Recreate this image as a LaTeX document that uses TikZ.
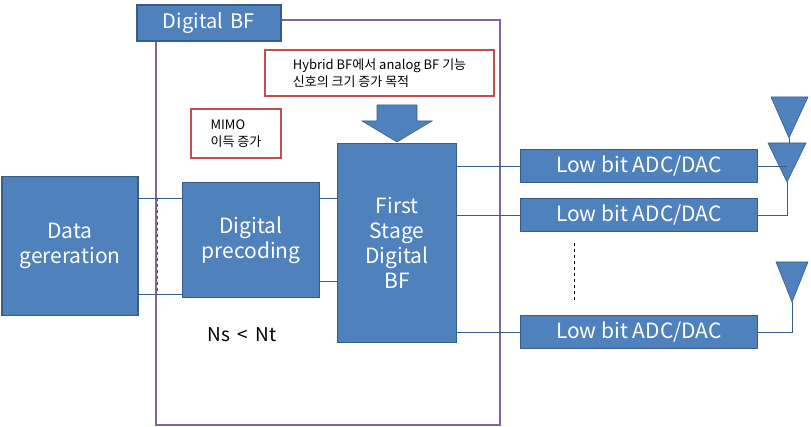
\documentclass[tikz,border=0pt]{standalone}
\usepackage{fontspec}
\setmainfont{Noto Sans CJK KR}
\usetikzlibrary{positioning}
\definecolor{boxblue}{HTML}{4F81BD}
\definecolor{boxedge}{HTML}{385D8A}
\definecolor{notered}{HTML}{C0504D}
\definecolor{framepurple}{HTML}{8064A2}

\begin{document}
\begin{tikzpicture}[
            x = 1pt, y = -1pt, % one unit per pixel
            semithick
            ]

        \tikzset{
            block/.style = {draw = boxedge, line width = 1.2pt, fill = boxblue, text = white,
                inner sep = 0pt, align = center, font = \fontsize{21}{25}\selectfont},
            note/.style = {draw = notered, line width = 2pt, fill = white, inner sep = 5pt,
                align = left, font = \fontsize{13}{17}\selectfont},
            wire/.style = {draw = boxedge, thin},
            antenna/.style = {draw = boxedge, fill = boxblue}
        }

        \useasboundingbox (0,0) rectangle (811,427);

	% frame
	\draw[framepurple, line width = 1.5pt] (156,20) rectangle (500,425);
	\draw[boxedge, thin, dashed] (157,198) -- (157,294);
	\node[block, minimum width = 144, minimum height = 36, font = \fontsize{20}{24}\selectfont] (dbf) at (209,23) {Digital\, BF};

	% notes
	\node[note, minimum width = 229, minimum height = 46, anchor = north west] (hyb) at (264,49)
	    {Hybrid BF에서 analog BF 기능\\신호의 크기 증가 목적};
	\node[note, minimum width = 90, minimum height = 49, anchor = north west] (mimo) at (190,108)
	    {MIMO\\이득 증가};

	% blocks
	\node[block, minimum width = 136, minimum height = 139] (data) at (70,246) {Data\\gereration};
	\node[block, minimum width = 137, minimum height = 115] (prec) at (251,240) {Digital\\precoding};
	\node[block, minimum width = 119, minimum height = 199] (fsbf) at (397,243) {First\\Stage\\Digital\\BF};
	\draw[boxedge, fill = boxblue] (377,105) -- (417,105) -- (417,121) -- (432,121)
	    -- (397,142) -- (362,121) -- (377,121) -- cycle;

	\node[block, minimum width = 237, minimum height = 33] (adc1) at (639,166) {Low bit ADC/DAC};
	\node[block, minimum width = 237, minimum height = 33] (adc2) at (639,215) {Low bit ADC/DAC};
	\node[block, minimum width = 237, minimum height = 33] (adc3) at (639,332) {Low bit ADC/DAC};

	% antennas
	\coordinate (ant1) at (789,138);
	\coordinate (ant2) at (787,182);
	\coordinate (ant3) at (792,302);
	\draw[antenna] (ant1) -- ++(-18,-41) -- ++(37,0) -- cycle;
	\draw[antenna] (ant2) -- ++(-19,-39) -- ++(38,0) -- cycle;
	\draw[antenna] (ant3) -- ++(-16,-40) -- ++(32,0) -- cycle;

	% connections
	\draw[wire] (data.east |- 0,198) -- (prec.west |- 0,198);
	\draw[wire] (data.east |- 0,294) -- (prec.west |- 0,294);
	\draw[wire] (prec.east |- 0,198) -- (fsbf.west |- 0,198);
	\draw[wire] (prec.east |- 0,281) -- (fsbf.west |- 0,281);
	\draw[wire] (fsbf.east |- adc1) -- (adc1.west);
	\draw[wire] (fsbf.east |- adc2) -- (adc2.west);
	\draw[wire] (fsbf.east |- adc3) -- (adc3.west);
	\draw[wire] (adc1.east) -- (ant2 |- adc1.east);
	\draw[wire] (adc2.east) -| (ant2);
	\draw[wire] (adc3.east) -| (ant3);
	\draw[wire] (ant1) -- ++(0,5);
	\draw[thin, dashed] (574,243) -- (574,302);

	\node[font = \fontsize{19}{22}\selectfont] (ns) at (242,335) {Ns \,<\, Nt};

\end{tikzpicture}
\end{document}
